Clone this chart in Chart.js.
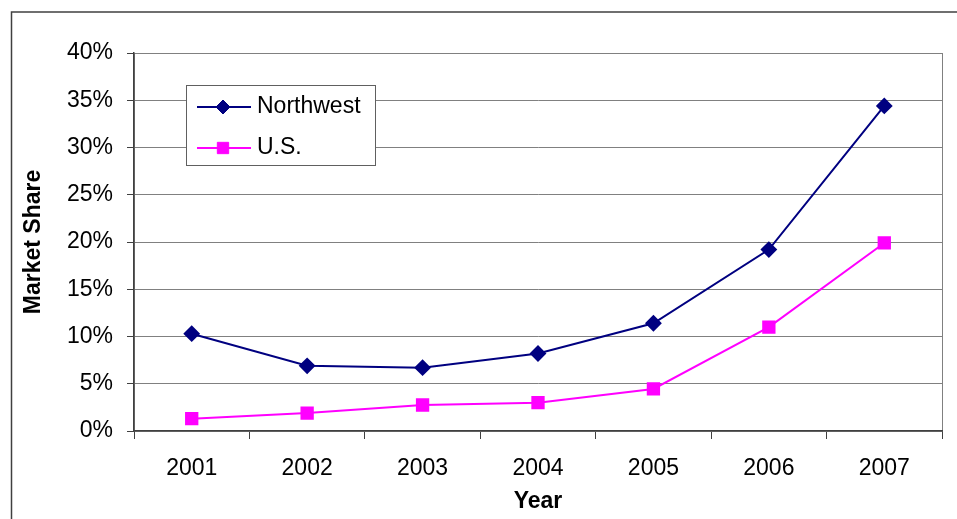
<!DOCTYPE html>
<html>
<head>
<meta charset="utf-8">
<script src="https://cdn.jsdelivr.net/npm/chart.js@4/dist/chart.umd.min.js"></script>
<style>
  html, body { margin: 0; padding: 0; background: #fff; }
  #wrap { width: 957px; height: 519px; position: relative; }
</style>
</head>
<body>
<div id="wrap"><canvas id="c" width="957" height="519"></canvas></div>
<script>
// Market share by year
const years = ['2001', '2002', '2003', '2004', '2005', '2006', '2007'];
const northwest = [10.3, 6.9, 6.7, 8.2, 11.4, 19.2, 34.4];
const us = [1.3, 1.9, 2.75, 3.0, 4.45, 11.0, 19.9];
const seriesNames = ['Northwest', 'U.S.'];

const FONT = "'Liberation Sans', Arial, sans-serif";
const FONT_SIZE = 23;

// Outer frame and plot-area border, drawn before the scales
const framePlugin = {
  id: 'frame',
  beforeDraw(chart) {
    const ctx = chart.ctx;
    const a = chart.chartArea;
    ctx.save();
    ctx.fillStyle = '#fff';
    ctx.fillRect(0, 0, chart.width, chart.height);
    ctx.strokeStyle = '#404040';
    ctx.lineWidth = 1.5;
    ctx.strokeRect(11.5, 12, chart.width + 20, chart.height + 20);
    ctx.strokeStyle = '#808080';
    ctx.lineWidth = 1;
    ctx.strokeRect(Math.round(a.left) + 0.5, Math.round(a.top) + 0.5,
                   Math.round(a.right - a.left), Math.round(a.bottom - a.top));
    ctx.restore();
  }
};

// Boxed legend inside the plot area
const boxLegend = {
  id: 'boxLegend',
  afterDatasetsDraw(chart) {
    const ctx = chart.ctx;
    const x0 = 186.5, y0 = 85.5, w = 189, h = 80;
    ctx.save();
    ctx.fillStyle = '#fff';
    ctx.fillRect(x0, y0, w, h);
    ctx.strokeStyle = '#606060';
    ctx.lineWidth = 1;
    ctx.strokeRect(x0, y0, w, h);
    const rows = [107, 148];
    chart.data.datasets.forEach((ds, i) => {
      const y = rows[i];
      ctx.strokeStyle = ds.borderColor;
      ctx.lineWidth = ds.borderWidth;
      ctx.beginPath();
      ctx.moveTo(197, y);
      ctx.lineTo(251, y);
      ctx.stroke();
      ctx.fillStyle = ds.pointBackgroundColor;
      ctx.strokeStyle = ds.pointBorderColor;
      ctx.lineWidth = 1;
      Chart.helpers.drawPoint(ctx, {
        pointStyle: ds.pointStyle,
        radius: ds.pointRadius,
        borderWidth: 1
      }, 223, y);
      ctx.fillStyle = '#000';
      ctx.font = FONT_SIZE + 'px ' + FONT;
      ctx.textBaseline = 'middle';
      ctx.textAlign = 'left';
      ctx.fillText(ds.label, 257, y);
    });
    ctx.restore();
  }
};

const ctx = document.getElementById('c').getContext('2d');
new Chart(ctx, {
  type: 'line',
  data: {
    labels: years,
    datasets: [
      {
        label: seriesNames[0],
        data: northwest,
        borderColor: '#000080',
        backgroundColor: '#000080',
        pointBackgroundColor: '#000080',
        pointBorderColor: '#000080',
        borderWidth: 2,
        pointStyle: 'rectRot',
        pointRadius: 7,
        pointHoverRadius: 7,
        tension: 0
      },
      {
        label: seriesNames[1],
        data: us,
        borderColor: '#FF00FF',
        backgroundColor: '#FF00FF',
        pointBackgroundColor: '#FF00FF',
        pointBorderColor: '#FF00FF',
        borderWidth: 2,
        pointStyle: 'rect',
        pointRadius: 8,
        pointHoverRadius: 8,
        tension: 0
      }
    ]
  },
  options: {
    responsive: false,
    animation: false,
    devicePixelRatio: 1,
    layout: { padding: { left: 12, top: 53, right: 15, bottom: 0 } },
    plugins: {
      legend: { display: false },
      tooltip: { enabled: false }
    },
    scales: {
      x: {
        offset: true,
        afterFit(scale) { scale.height = 88; },
        grid: {
          drawOnChartArea: false,
          drawTicks: true,
          tickLength: 8,
          tickColor: '#404040',
          offset: true
        },
        border: { color: '#404040', width: 1.5 },
        ticks: {
          color: '#000',
          font: { family: FONT, size: FONT_SIZE },
          padding: 16,
          maxRotation: 0
        },
        title: {
          display: true,
          text: 'Year',
          color: '#000',
          font: { family: FONT, size: FONT_SIZE, weight: 'bold' },
          padding: { top: 0, bottom: 4 }
        }
      },
      y: {
        min: 0,
        max: 40,
        afterFit(scale) { scale.width = 122; },
        grid: {
          color: '#808080',
          lineWidth: 1,
          drawTicks: true,
          tickLength: 7,
          tickColor: '#404040'
        },
        border: { color: '#404040', width: 1.5 },
        ticks: {
          stepSize: 5,
          color: '#000',
          font: { family: FONT, size: FONT_SIZE },
          padding: 14,
          callback: v => v + '%'
        },
        title: {
          display: true,
          text: 'Market Share',
          color: '#000',
          font: { family: FONT, size: FONT_SIZE, weight: 'bold' },
          padding: { top: 8, bottom: 0 }
        }
      }
    }
  },
  plugins: [framePlugin, boxLegend]
});
</script>
</body>
</html>
